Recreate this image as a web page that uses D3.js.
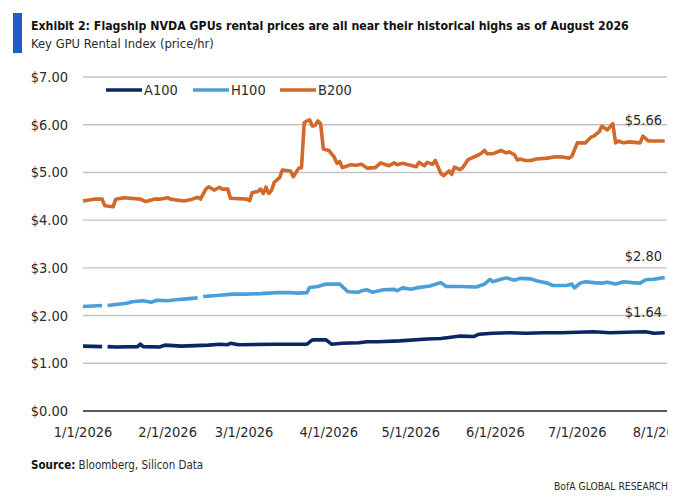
<!DOCTYPE html>
<html lang="en">
<head>
<meta charset="UTF-8">
<title>GPU rental prices</title>
<script src="https://d3js.org/d3.v7.min.js"></script>
<style>
  body, html { margin: 0; background: #fff; }
  svg { display: block; }
  text { font-family: "DejaVu Sans Condensed", "Liberation Sans Narrow", "Roboto", sans-serif; fill: #2b2b2b; }
  .title { font-weight: bold; fill: #111; }
</style>
</head>
<body>
<svg width="680" height="496"></svg>
<script>
// values (date "MM-DD" in 2026, $/hr); null = gap in the line
const a100 = [
  ["01-01",1.36],["01-08",1.35],["01-09",null],["01-10",1.35],["01-13",1.34],["01-21",1.35],["01-22",1.40],
  ["01-23",1.35],["01-29",1.34],["01-31",1.38],["02-06",1.36],["02-16",1.38],["02-20",1.40],["02-23",1.39],
  ["02-24",1.42],["02-27",1.39],["03-12",1.40],["03-24",1.40],["03-26",1.49],["03-31",1.49],["04-02",1.40],
  ["04-06",1.42],["04-12",1.43],["04-15",1.45],["04-19",1.45],["04-27",1.47],["05-07",1.51],["05-12",1.52],
  ["05-15",1.54],["05-19",1.57],["05-24",1.56],["05-26",1.61],["05-31",1.63],["06-06",1.64],["06-12",1.63],
  ["06-19",1.64],["06-25",1.64],["07-01",1.65],["07-07",1.66],["07-13",1.64],["07-19",1.65],["07-26",1.66],
  ["07-29",1.63],["08-02",1.64]
];
const h100 = [
  ["01-01",2.19],["01-08",2.21],["01-09",null],["01-10",2.21],["01-17",2.26],["01-19",2.29],["01-23",2.31],
  ["01-26",2.28],["01-28",2.32],["02-01",2.31],["02-04",2.33],["02-08",2.35],["02-12",2.37],["02-13",null],
  ["02-14",2.40],["02-19",2.42],["02-25",2.45],["03-02",2.45],["03-07",2.46],["03-13",2.48],["03-18",2.48],
  ["03-21",2.47],["03-24",2.48],["03-25",2.59],["03-28",2.61],["03-31",2.66],["04-05",2.66],["04-08",2.50],
  ["04-12",2.49],["04-13",2.52],["04-15",2.54],["04-17",2.49],["04-21",2.54],["04-25",2.55],["04-26",2.52],
  ["04-28",2.58],["05-01",2.55],["05-03",2.58],["05-08",2.62],["05-12",2.69],["05-14",2.61],["05-19",2.61],
  ["05-25",2.60],["05-28",2.66],["05-30",2.76],["05-31",2.71],["06-03",2.76],["06-05",2.79],["06-08",2.74],
  ["06-10",2.78],["06-14",2.77],["06-16",2.73],["06-20",2.68],["06-22",2.63],["06-27",2.63],["06-29",2.66],
  ["06-30",2.58],["07-02",2.68],["07-04",2.71],["07-07",2.69],["07-10",2.68],["07-12",2.70],["07-15",2.66],
  ["07-18",2.71],["07-21",2.69],["07-24",2.68],["07-26",2.75],["07-29",2.76],["07-31",2.78],["08-02",2.80]
];
const b200 = [
  ["01-01",4.40],["01-05",4.44],["01-08",4.44],["01-09",4.30],["01-12",4.28],["01-13",4.44],["01-16",4.47],
  ["01-22",4.44],["01-24",4.39],["01-27",4.44],["01-29",4.44],["02-01",4.47],["02-02",4.44],["02-07",4.40],
  ["02-10",4.44],["02-12",4.48],["02-13",4.44],["02-15",4.65],["02-16",4.70],["02-18",4.63],["02-20",4.69],
  ["02-21",4.65],["02-23",4.65],["02-24",4.46],["03-02",4.44],["03-03",4.41],["03-04",4.58],["03-06",4.60],
  ["03-07",4.65],["03-08",4.56],["03-09",4.69],["03-10",4.56],["03-11",4.62],["03-12",4.79],["03-14",4.89],
  ["03-15",5.05],["03-18",5.03],["03-19",4.91],["03-21",5.09],["03-22",5.10],["03-23",6.04],["03-24",6.08],
  ["03-25",6.10],["03-26",5.97],["03-27",5.99],["03-28",6.08],["03-29",6.02],["03-30",5.49],["04-01",5.46],
  ["04-03",5.32],["04-04",5.19],["04-05",5.23],["04-06",5.10],["04-09",5.16],["04-11",5.15],["04-13",5.17],
  ["04-15",5.09],["04-18",5.10],["04-20",5.20],["04-23",5.14],["04-25",5.20],["04-26",5.16],["04-28",5.19],
  ["05-03",5.12],["05-04",5.21],["05-06",5.14],["05-07",5.21],["05-09",5.17],["05-10",5.25],["05-12",4.98],
  ["05-13",4.93],["05-15",5.03],["05-16",4.96],["05-17",5.11],["05-19",5.06],["05-20",5.10],["05-22",5.27],
  ["05-24",5.32],["05-26",5.37],["05-27",5.41],["05-28",5.46],["05-29",5.39],["05-31",5.39],["06-03",5.46],
  ["06-05",5.41],["06-06",5.43],["06-08",5.37],["06-09",5.26],["06-10",5.28],["06-12",5.25],["06-14",5.25],
  ["06-16",5.28],["06-20",5.30],["06-23",5.33],["06-26",5.32],["06-28",5.30],["06-29",5.34],["07-01",5.62],
  ["07-04",5.62],["07-06",5.74],["07-07",5.76],["07-08",5.81],["07-09",5.85],["07-10",5.97],["07-12",5.89],
  ["07-13",5.96],["07-14",6.02],["07-15",5.62],["07-16",5.66],["07-18",5.62],["07-20",5.64],["07-24",5.62],
  ["07-25",5.76],["07-27",5.66],["07-31",5.66],["08-02",5.66]
];

const seriesNames = ["A100", "H100", "B200"];
const seriesColors = ["#0b2565", "#4a9fd9", "#d1692a"];
const endLabels = ["$1.64", "$2.80", "$5.66"];
const yTicks = [0, 1, 2, 3, 4, 5, 6, 7];
const xTicks = ["01-01", "02-01", "03-01", "04-01", "05-01", "06-01", "07-01", "08-01"];

const parse = d3.timeParse("%Y-%m-%d");
const toDate = s => parse("2026-" + s);
const svg = d3.select("svg");

// scale the font so the text is about as wide as in the reference
function fitSize(sel, size, w) {
  sel.attr("font-size", size);
  const real = sel.node().getComputedTextLength();
  if (real > w) sel.attr("font-size", (size * w / real).toFixed(2));
}

// header
svg.append("rect").attr("x", 13).attr("y", 13).attr("width", 9).attr("height", 40).attr("fill", "#1f5ec8");
svg.append("text").attr("class", "title").attr("x", 31).attr("y", 30)
  .text("Exhibit 2: Flagship NVDA GPUs rental prices are all near their historical highs as of August 2026")
  .call(fitSize, 15, 598);
svg.append("text").attr("x", 31).attr("y", 48).attr("fill", "#333")
  .text("Key GPU Rental Index (price/hr)").call(fitSize, 14.5, 183);

const x = d3.scaleTime().domain([toDate("01-01"), toDate("08-01")]).range([83, 662]);
const y = d3.scaleLinear().domain([0, 7]).range([411, 77]);
const left = 83, right = 667;

// gridlines + y labels
const grid = svg.append("g");
grid.selectAll("line").data(yTicks).join("line")
  .attr("x1", left).attr("x2", right)
  .attr("y1", d => y(d)).attr("y2", d => y(d))
  .attr("stroke", d => d === 0 ? "#1e1e1e" : "#c3c3c3")
  .attr("stroke-width", d => d === 0 ? 1.6 : 1.4);
grid.selectAll("text").data(yTicks).join("text")
  .attr("x", 68).attr("y", d => y(d) + 5)
  .attr("text-anchor", "end").attr("font-size", 14.5)
  .text(d3.format("$.2f"));

// x labels, the last one cut at the right edge like the original
svg.append("clipPath").attr("id", "xclip").append("rect")
  .attr("x", 0).attr("y", 415).attr("width", 668).attr("height", 30);
svg.append("g").attr("clip-path", "url(#xclip)")
  .selectAll("text").data(xTicks).join("text")
  .attr("x", d => x(toDate(d))).attr("y", 437)
  .attr("text-anchor", "middle").attr("font-size", 14.5)
  .text(d => d3.timeFormat("%-m/%-d/%Y")(toDate(d)));

// series
const line = d3.line()
  .defined(d => d[1] !== null)
  .x(d => x(toDate(d[0])))
  .y(d => y(d[1]));

[a100, h100, b200].forEach((data, i) => {
  svg.append("path")
    .datum(data)
    .attr("d", line)
    .attr("fill", "none")
    .attr("stroke", seriesColors[i])
    .attr("stroke-width", 3.6)
    .attr("stroke-linejoin", "round");
});

// end value labels
[a100, h100, b200].forEach((data, i) => {
  const last = data[data.length - 1];
  svg.append("text")
    .attr("x", 662).attr("y", y(last[1]) - 16)
    .attr("text-anchor", "end").attr("font-size", 14.5)
    .text(endLabels[i]);
});

// legend
const legendX = [106, 193, 280];
const leg = svg.append("g").selectAll("g").data(seriesNames).join("g")
  .attr("transform", (d, i) => `translate(${legendX[i]},90)`);
leg.append("line").attr("x1", 0).attr("x2", 36).attr("stroke-width", 3.6)
  .attr("stroke", (d, i) => seriesColors[i]);
leg.append("text").attr("x", 38).attr("y", 5).attr("font-size", 14.5).text(d => d);

// footer
const src = svg.append("text").attr("x", 31).attr("y", 469).attr("font-size", 11.5);
src.append("tspan").attr("font-weight", "bold").attr("fill", "#111").text("Source:");
src.append("tspan").text(" Bloomberg, Silicon Data");
svg.append("text").attr("x", 668).attr("y", 490).attr("text-anchor", "end")
  .attr("fill", "#707070")
  .text("BofA GLOBAL RESEARCH").call(fitSize, 12, 114);
</script>
</body>
</html>
